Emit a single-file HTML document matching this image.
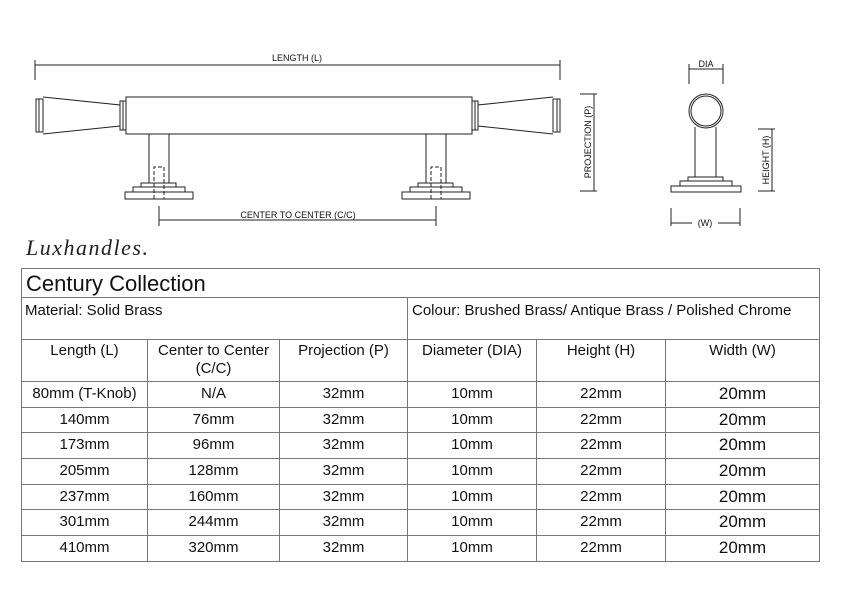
<!DOCTYPE html>
<html><head><meta charset="utf-8"><style>
body{margin:0;width:842px;height:595px;background:#fff;position:relative;overflow:hidden;font-family:"Liberation Sans",Arial,sans-serif;}
.c{position:absolute;border-left:1px solid #777;border-top:1px solid #777;box-sizing:border-box;color:#111;text-align:center;font-size:15px;}
</style></head><body>
<svg width="842" height="270" style="position:absolute;left:0;top:0" font-family="Liberation Sans, Arial, sans-serif">
<g stroke="#222" stroke-width="1" fill="none">
<line x1="35" y1="65" x2="560" y2="65"/><line x1="35" y1="60" x2="35" y2="80"/><line x1="560" y1="60" x2="560" y2="80"/>
<rect x="126" y="97" width="346" height="37"/>
<rect x="36" y="99" width="7" height="33"/><line x1="39" y1="99" x2="39" y2="132"/>
<polyline points="43,97 120,105 120,126 43,134"/>
<rect x="120" y="101" width="6" height="29"/><line x1="123" y1="101" x2="123" y2="130"/>
<rect x="553" y="99" width="7" height="33"/><line x1="557" y1="99" x2="557" y2="132"/>
<polyline points="553,97 478,105 478,126 553,134"/>
<rect x="472" y="101" width="6" height="29"/><line x1="475" y1="101" x2="475" y2="130"/>
<g id="p">
<line x1="149" y1="134" x2="149" y2="183"/><line x1="169" y1="134" x2="169" y2="183"/>
<rect x="141" y="183" width="35" height="4"/><rect x="133" y="187" width="52" height="5"/><rect x="125" y="192" width="68" height="7"/>
<polyline points="154,199 154,167 164,167 164,199" stroke-dasharray="4,2"/>
</g>
<use href="#p" transform="translate(277,0)"/>
<line x1="159" y1="220" x2="436" y2="220"/>
<line x1="159" y1="206" x2="159" y2="226"/><line x1="436" y1="206" x2="436" y2="226"/>
<circle cx="706" cy="111" r="17"/><circle cx="706" cy="111" r="15"/>
<line x1="689" y1="69" x2="723" y2="69"/><line x1="689" y1="64" x2="689" y2="84"/><line x1="723" y1="64" x2="723" y2="84"/>
<line x1="695" y1="127" x2="695" y2="177"/><line x1="716" y1="127" x2="716" y2="177"/>
<rect x="688" y="177" width="35" height="4"/><rect x="680" y="181" width="52" height="5"/><rect x="671" y="186" width="70" height="6"/>
<line x1="671" y1="208" x2="671" y2="226"/><line x1="740" y1="208" x2="740" y2="226"/>
<line x1="671" y1="223" x2="692" y2="223"/><line x1="718" y1="223" x2="740" y2="223"/>
<line x1="594" y1="94" x2="594" y2="191"/><line x1="580" y1="94" x2="597" y2="94"/><line x1="580" y1="191" x2="597" y2="191"/>
<line x1="772" y1="129" x2="772" y2="191"/><line x1="758" y1="129" x2="775" y2="129"/><line x1="758" y1="191" x2="775" y2="191"/>
</g>
<g font-size="9" fill="#111">
<text x="297" y="61" text-anchor="middle">LENGTH (L)</text>
<text x="298" y="218" text-anchor="middle">CENTER TO CENTER (C/C)</text>
<text x="706" y="67" text-anchor="middle">DIA</text>
<text x="705" y="226" text-anchor="middle">(W)</text>
<text transform="translate(591,142) rotate(-90)" text-anchor="middle">PROJECTION (P)</text>
<text transform="translate(769,160) rotate(-90)" text-anchor="middle">HEIGHT (H)</text>
</g>
<text x="26" y="255" font-family="Liberation Serif, serif" font-style="italic" font-size="22" fill="#222" textLength="122">Luxhandles.</text>
</svg>
<div style="position:absolute;left:21px;top:268px;width:799px;height:294px;border-right:1px solid #777;border-bottom:1px solid #777;box-sizing:border-box;"></div>
<div class="c" style="left:21px;top:268px;width:798px;height:29px;text-align:left;padding-left:4px;font-size:22px;line-height:29px;">Century Collection</div>
<div class="c" style="left:21px;top:297px;width:386px;height:42px;text-align:left;padding:4px 0 0 3px;">Material: Solid Brass</div>
<div class="c" style="left:407px;top:297px;width:412px;height:42px;text-align:left;padding:4px 0 0 4px;">Colour: Brushed Brass/ Antique Brass / Polished Chrome</div>
<div class="c" style="left:21px;top:339px;width:126px;height:42px;padding-top:2px;">Length (L)</div>
<div class="c" style="left:147px;top:339px;width:132px;height:42px;padding-top:2px;line-height:18px;">Center to Center<br>(C/C)</div>
<div class="c" style="left:279px;top:339px;width:128px;height:42px;padding-top:2px;">Projection (P)</div>
<div class="c" style="left:407px;top:339px;width:129px;height:42px;padding-top:2px;">Diameter (DIA)</div>
<div class="c" style="left:536px;top:339px;width:129px;height:42px;padding-top:2px;">Height (H)</div>
<div class="c" style="left:665px;top:339px;width:154px;height:42px;padding-top:2px;">Width (W)</div>
<div id="rows"></div>
<script>
var d=[["80mm (T-Knob)","N/A"],["140mm","76mm"],["173mm","96mm"],["205mm","128mm"],["237mm","160mm"],["301mm","244mm"],["410mm","320mm"]];
var ys=[381,407,432,458,484,509,535,561];var xs=[21,147,279,407,536,665,819];
var h="";d.forEach(function(r,i){var v=[r[0],r[1],"32mm","10mm","22mm","20mm"];for(var j=0;j<6;j++){var hh=ys[i+1]-ys[i];h+='<div class="c" style="left:'+xs[j]+'px;top:'+ys[i]+'px;width:'+(xs[j+1]-xs[j])+'px;height:'+hh+'px;line-height:'+(hh-2)+'px;'+(j==5?'font-size:17px;':'')+'">'+v[j]+'</div>';}});
document.getElementById("rows").innerHTML=h;
</script>
</body></html>
